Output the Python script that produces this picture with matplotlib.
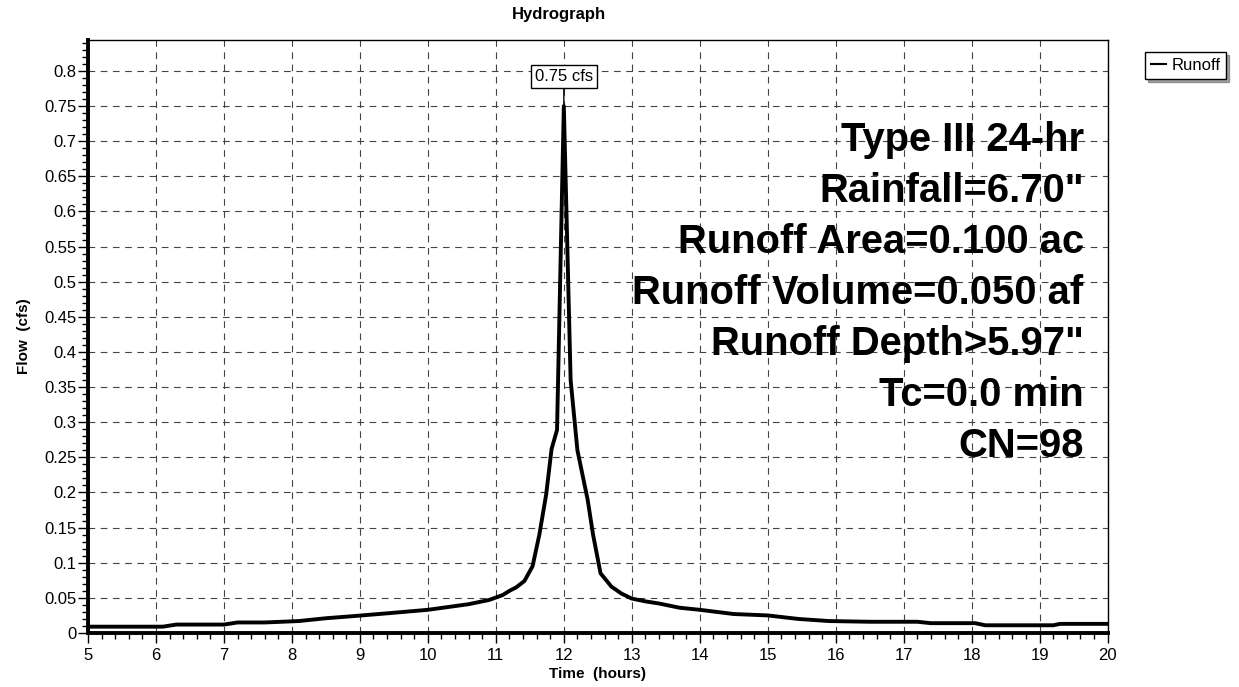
import matplotlib
matplotlib.use("Agg")
import matplotlib.pyplot as plt
from matplotlib.ticker import MultipleLocator

plt.rcParams['font.family'] = ['Liberation Sans', 'DejaVu Sans']

# runoff hydrograph
time_hr = [5.0, 6.1, 6.3, 7.0, 7.2, 7.6, 8.1, 8.5, 8.9, 9.4, 10.0, 10.3, 10.6,
           10.9, 11.1, 11.2, 11.3, 11.42, 11.54, 11.64, 11.74, 11.82, 11.9, 12.0,
           12.1, 12.2, 12.35, 12.43, 12.54, 12.7, 12.85, 13.0, 13.2, 13.4, 13.7,
           14.0, 14.5, 15.0, 15.45, 15.9, 16.5, 17.2, 17.4, 18.05, 18.2, 19.2,
           19.3, 20.0]
flow_cfs = [0.009, 0.009, 0.012, 0.012, 0.015, 0.015, 0.017, 0.021, 0.024, 0.028,
            0.033, 0.037, 0.041, 0.047, 0.054, 0.06, 0.065, 0.074, 0.095, 0.14,
            0.197, 0.262, 0.289, 0.75, 0.36, 0.26, 0.19, 0.14, 0.085, 0.066,
            0.056, 0.049, 0.045, 0.042, 0.036, 0.033, 0.027, 0.025, 0.02, 0.017,
            0.016, 0.016, 0.014, 0.014, 0.011, 0.011, 0.013, 0.013]

peak_time = 12.0
peak_flow = 0.75
peak_label = "0.75 cfs"

y_ticks = [0.0, 0.05, 0.1, 0.15, 0.2, 0.25, 0.3, 0.35, 0.4, 0.45, 0.5, 0.55,
           0.6, 0.65, 0.7, 0.75, 0.8]
y_ticklabels = ['0', '0.05', '0.1', '0.15', '0.2', '0.25', '0.3', '0.35', '0.4',
                '0.45', '0.5', '0.55', '0.6', '0.65', '0.7', '0.75', '0.8']

info_lines = ["Type III 24-hr", 'Rainfall=6.70"', "Runoff Area=0.100 ac",
              "Runoff Volume=0.050 af", 'Runoff Depth>5.97"', "Tc=0.0 min",
              "CN=98"]

fig = plt.figure(figsize=(12.39, 6.87), dpi=100)
ax = fig.add_axes([0.071, 0.0786, 0.823, 0.8632])

ax.plot(time_hr, flow_cfs, color='black', lw=2.8, label='Runoff', zorder=3)

ax.set_xlim(5, 20)
ax.set_ylim(0, 0.844)
ax.xaxis.set_major_locator(MultipleLocator(1))
ax.xaxis.set_minor_locator(MultipleLocator(0.2))
ax.yaxis.set_minor_locator(MultipleLocator(0.01))
ax.set_yticks(y_ticks)
ax.set_yticklabels(y_ticklabels)

ax.tick_params(which='major', length=7, width=1, labelsize=12, direction='out')
ax.tick_params(which='minor', length=4, width=1, direction='out')
ax.tick_params(axis='x', pad=4)
ax.tick_params(axis='y', pad=1)

ax.grid(True, which='major', color='#444444', lw=0.8, ls=(0, (6, 5)))
ax.set_axisbelow(True)

for side in ['left', 'bottom']:
    ax.spines[side].set_linewidth(2.8)
for side in ['top', 'right']:
    ax.spines[side].set_linewidth(1.0)

fig.text(559 / 1239, 1 - 15 / 687, "Hydrograph", ha='center', va='center',
         fontsize=12, fontweight='bold')
ax.set_xlabel("Time  (hours)", fontsize=11, fontweight='bold', labelpad=3)
ax.set_ylabel("Flow  (cfs)", fontsize=11, fontweight='bold', labelpad=10)

ax.annotate(peak_label, xy=(peak_time, peak_flow), xytext=(peak_time, 0.792),
            ha='center', va='center', fontsize=12,
            bbox=dict(boxstyle='square,pad=0.25', fc='white', ec='black', lw=1),
            arrowprops=dict(arrowstyle='-', color='black', lw=1, shrinkA=0, shrinkB=0),
            zorder=5)

for i, line in enumerate(info_lines):
    ax.text(0.9765, 0.832 - i * 0.0862, line, transform=ax.transAxes,
            ha='right', va='center', fontsize=28.8, fontweight='bold', zorder=4)

leg = fig.legend(loc='upper left', bbox_to_anchor=(0.924, 0.924), fontsize=12,
                 frameon=True, fancybox=False, shadow=True, handlelength=0.9,
                 handletextpad=0.35, borderpad=0.35, borderaxespad=0)
leg.get_frame().set_edgecolor('black')
leg.get_frame().set_linewidth(1)
leg.get_lines()[0].set_linewidth(1.5)

fig.savefig("out.png", dpi=100)
